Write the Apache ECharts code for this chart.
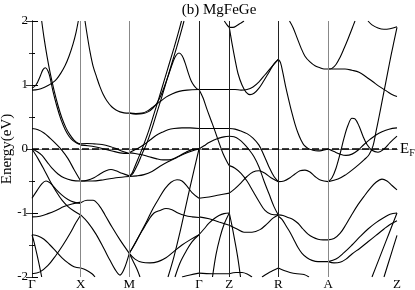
<!DOCTYPE html>
<html><head><meta charset="utf-8">
<script src="https://cdn.jsdelivr.net/npm/echarts@6/dist/echarts.min.js"></script>
<style>html,body{margin:0;padding:0;background:#fff}#c{width:415px;height:290px}</style>
</head><body><div id="c"></div>
<script>
const titleText = '(b) MgFeGe';
const yName = 'Energy(eV)';
const kLabels = ['Γ','X','M','Γ','Z','R','A','Z'];
const kTicks = [0, 48.7, 97.3, 167, 197.3, 246.3, 296.3, 365];
const eMin = -2, eMax = 2, eStep = 1;
const fermi = 0;

const bandsGX = [
 [[9.7,2.0],[12,1.74],[15,1.45],[18,1.2],[22,0.92],[26,0.68],[30,0.48],[34,0.33],[38,0.22],[42,0.14],[46,0.09],[48.7,0.08]],
 [[0,0.92],[6,0.93],[12,0.96],[17,1.0],[21,1.04],[25,1.1],[29,1.19],[33,1.3],[37,1.45],[41,1.64],[44,1.82],[46.3,2.0]],
 [[0,0.95],[4,1.0],[8,1.13],[11,1.24],[13.5,1.27],[16,1.22],[18,1.12],[21,0.9],[25,0.66],[29,0.46],[33,0.31],[37,0.2],[41,0.13],[45,0.09],[48.7,0.07]],
 [[0,0.32],[6,0.3],[12,0.25],[18,0.17],[24,0.08],[30,-0.02],[36,-0.15],[42,-0.32],[48.7,-0.5]],
 [[0,0],[5,-0.04],[10,-0.1],[15,-0.2],[20,-0.3],[26,-0.39],[32,-0.45],[40,-0.49],[48.7,-0.5]],
 [[0,0],[6,-0.15],[12,-0.32],[18,-0.5],[24,-0.66],[30,-0.8],[36,-0.9],[42,-0.97],[48.7,-1.03]],
 [[0,-0.77],[5,-0.65],[10,-0.54],[14,-0.5],[18,-0.53],[24,-0.63],[30,-0.72],[36,-0.79],[42,-0.83],[48.7,-0.85]],
 [[0,-1.06],[8,-1.05],[16,-1.01],[24,-0.96],[32,-0.9],[40,-0.86],[48.7,-0.83]],
 [[0,-1.34],[6,-1.36],[12,-1.41],[18,-1.5],[24,-1.6],[30,-1.7],[36,-1.78],[42,-1.84],[48.7,-1.86]],
 [[0,-1.34],[2,-1.45],[5,-1.65],[7.5,-1.83],[9.7,-2.0]],
 [[0,-1.95],[8,-1.92],[16,-1.82],[24,-1.66],[31,-1.5],[38,-1.32],[44,-1.15],[48.7,-1.03]]
];
const bandsXM = [
 [[53,2.0],[55.5,1.75],[58,1.52],[61,1.3],[64.7,1.12],[68,0.97],[71,0.86],[75,0.75],[79.7,0.66],[84,0.61],[88,0.58],[92,0.565],[97.3,0.56]],
 [[48.7,0.08],[55,0.085],[62,0.08],[70,0.07],[78,0.04],[85,0.0],[91,-0.04],[97.3,-0.07]],
 [[48.7,0.06],[56,0.05],[64,0.03],[72,0.0],[80,-0.03],[88,-0.06],[97.3,-0.07]],
 [[48.7,-0.5],[55,-0.49],[62,-0.45],[68,-0.39],[74,-0.34],[79,-0.32],[84,-0.34],[90,-0.38],[97.3,-0.42]],
 [[48.7,-0.5],[60,-0.5],[72,-0.48],[84,-0.45],[97.3,-0.43]],
 [[48.7,-0.84],[55,-0.8],[61,-0.8],[67,-0.88],[73,-1.03],[80,-1.22],[88,-1.42],[97.3,-1.63]],
 [[48.7,-1.03],[56,-1.15],[64,-1.33],[72,-1.56],[78,-1.74],[83,-1.88],[88,-1.97],[92,-1.88],[97.3,-1.63]],
 [[48.7,-1.86],[54,-1.89],[60,-1.95],[63,-2.0]]
];
const bandsMG = [
 [[97.3,0.56],[104,0.555],[110,0.56],[116,0.6],[122,0.67],[128,0.74],[134,0.81],[140,0.86],[147,0.9],[155,0.92],[167,0.93]],
 [[97.3,0.56],[104,0.545],[110,0.55],[116,0.58],[121,0.64],[125,0.72],[129,0.84],[133,1.0],[137,1.18],[141,1.36],[144,1.46],[147,1.5],[150,1.46],[153,1.35],[156,1.2],[159,1.07],[162,0.99],[165,0.94],[167,0.93]],
 [[97.3,-0.43],[100,-0.38],[104,-0.23],[108,-0.08],[112,0.08],[117,0.3],[122,0.55],[127,0.8],[132,1.06],[137,1.32],[142,1.58],[146,1.8],[149.5,2.0]],
 [[97.3,-0.43],[101,-0.38],[106,-0.23],[110,-0.08],[114.5,0.08],[119.5,0.3],[124.5,0.55],[129.5,0.8],[134.5,1.06],[139.5,1.32],[144.5,1.58],[148.5,1.8],[152,2.0]],
 [[97.3,-0.06],[103,-0.07],[110,-0.09],[117,-0.12],[124,-0.15],[131,-0.17],[137,-0.17],[142,-0.15],[148,-0.1],[154,-0.05],[160,-0.01],[167,0]],
 [[97.3,-0.06],[102,-0.02],[107,0.02],[112,0.07],[118,0.14],[124,0.21],[130,0.26],[136,0.3],[142,0.32],[150,0.33],[158,0.33],[167,0.32]],
 [[97.3,-0.43],[105,-0.42],[112,-0.4],[120,-0.35],[128,-0.27],[136,-0.2],[144,-0.14],[152,-0.08],[160,-0.03],[167,0]],
 [[97.3,-1.63],[103,-1.48],[109,-1.3],[115,-1.12],[121,-0.93],[127,-0.77],[133,-0.62],[139,-0.52],[145,-0.48],[150,-0.5],[155,-0.58],[160,-0.68],[167,-0.77]],
 [[97.3,-1.63],[102,-1.5],[107,-1.36],[112,-1.23],[117,-1.1],[122,-1.0],[128,-0.96],[134,-0.93],[140,-0.95],[146,-1.0],[153,-1.04],[160,-1.06],[167,-1.07]],
 [[143,-2.0],[148,-1.78],[154,-1.6],[160,-1.45],[167,-1.34]],
 [[97.3,-1.63],[103,-1.72],[110,-1.77],[118,-1.78],[126,-1.76],[134,-1.7],[142,-1.6],[150,-1.5],[158,-1.42],[167,-1.34]],
 [[97.3,-1.63],[101,-1.75],[105,-1.88],[108,-2.0]],
 [[150,-2.0],[158,-1.97],[167,-1.94]],
 [[136,-2.0],[142,-1.68],[148,-1.3],[153,-0.95],[158,-0.6],[162,-0.33],[167,0]]
];
const bandsGZ = [
 [[167,0.93],[177,0.93],[187,0.93],[197.3,0.93]],
 [[167,0.32],[177,0.32],[187,0.32],[197.3,0.32]],
 [[167,0.93],[171,0.8],[175,0.62],[179,0.45],[183,0.28],[187,0.1],[191,-0.07],[195,-0.2],[197.3,-0.26]],
 [[167,0],[172,0.05],[177,0.1],[182,0.14],[187,0.17],[192,0.19],[197.3,0.2]],
 [[167,-0.77],[177,-0.75],[187,-0.72],[197.3,-0.69]],
 [[167,-1.06],[177,-1.09],[187,-1.14],[197.3,-1.19]],
 [[167,-1.34],[172,-1.25],[177,-1.16],[182,-1.09],[187,-1.04],[192,-1.01],[197.3,-1.0]],
 [[180.5,-2.0],[184,-1.65],[188,-1.38],[192,-1.18],[197.3,-1.0]],
 [[167,-1.94],[180,-1.95],[197.3,-1.95]],
 [[192.3,2.0],[195,1.94],[197.3,1.9]]
];
const bandsZR = [
 [[197.3,1.9],[201,1.9],[205,1.93],[209,1.97],[212,2.0]],
 [[197.3,1.9],[200,1.65],[203,1.4],[206,1.18],[210,1.0],[214,0.89],[218,0.85],[222,0.87],[227,0.95],[232,1.07],[237,1.2],[242,1.33],[246.3,1.4]],
 [[197.3,0.93],[203,0.93],[209,0.92],[215,0.93],[221,0.97],[227,1.05],[233,1.16],[239,1.27],[246.3,1.4]],
 [[197.3,0.32],[203,0.31],[209,0.28],[215,0.24],[221,0.17],[227,0.06],[232,-0.1],[237,-0.28],[242,-0.43],[246.3,-0.51]],
 [[197.3,0.2],[202,0.19],[207,0.15],[212,0.08],[217,-0.01],[222,-0.12],[227,-0.28],[232,-0.5],[237,-0.7],[242,-0.9],[246.3,-1.03]],
 [[197.3,-0.26],[203,-0.3],[209,-0.38],[215,-0.5],[221,-0.66],[227,-0.82],[233,-0.96],[239,-1.02],[246.3,-1.03]],
 [[197.3,-0.69],[203,-0.62],[209,-0.53],[215,-0.43],[221,-0.36],[227,-0.34],[233,-0.38],[239,-0.45],[246.3,-0.51]],
 [[197.3,-1.19],[205,-1.25],[212,-1.3],[220,-1.3],[228,-1.26],[235,-1.17],[241,-1.08],[246.3,-1.03]],
 [[230,-2.0],[236,-1.94],[241,-1.9],[246.3,-1.86]],
 [[197.3,-1.95],[204,-1.93],[210,-1.93],[216,-1.96],[220,-2.0]],
 [[197.3,-1.0],[200,-1.2],[203,-1.45],[206,-1.72],[208.5,-2.0]]
];
const bandsRA = [
 [[257.5,2.0],[261,1.9],[265,1.74],[269,1.58],[273,1.45],[278,1.36],[283,1.3],[288,1.27],[292,1.25],[296.3,1.25]],
 [[246.3,1.4],[248.5,1.35],[251,1.18],[254,0.95],[257,0.75],[260,0.56],[263,0.39],[266,0.25],[269,0.14],[272,0.06],[276,0.01],[281,-0.02],[286,-0.03],[291,-0.02],[296.3,0]],
 [[246.3,-0.51],[252,-0.5],[258,-0.45],[263,-0.39],[268,-0.34],[273,-0.33],[278,-0.36],[283,-0.43],[289,-0.49],[296.3,-0.51]],
 [[246.3,-1.03],[251,-1.04],[256,-1.07],[261,-1.1],[266,-1.16],[271,-1.25],[276,-1.33],[281,-1.38],[286,-1.41],[291,-1.42],[296.3,-1.42]],
 [[246.3,-1.05],[250,-1.1],[254,-1.2],[258,-1.3],[262,-1.42],[266,-1.54],[270,-1.63],[275,-1.7],[280,-1.74],[286,-1.76],[291,-1.76],[296.3,-1.76]],
 [[246.3,-1.86],[252,-1.9],[258,-1.93],[265,-1.95],[272,-1.96],[277,-2.0]]
];
const bandsAZ = [
 [[296.3,1.25],[300,1.26],[304,1.32],[308,1.43],[312,1.57],[316,1.72],[320,1.88],[323,2.0]],
 [[296.3,1.25],[305,1.25],[313,1.25],[320,1.23],[327,1.2],[334,1.13],[341,1.05],[348,0.97],[355,0.9],[360,0.85],[365,0.82]],
 [[336,2.0],[340,1.94],[346,1.89],[352,1.87],[358,1.88],[365,1.91]],
 [[365,1.9],[362,1.68],[359,1.46],[356,1.22],[353,0.98],[350,0.74],[347,0.5],[344,0.27],[341,0.05],[337,-0.09],[332,-0.17],[327,-0.24],[320,-0.33],[314,-0.4],[306,-0.47],[296.3,-0.51]],
 [[296.3,-0.51],[300,-0.45],[304,-0.3],[308,-0.08],[312,0.17],[316,0.37],[320,0.48],[323,0.47],[327,0.36],[331,0.2],[335,0.07],[340,-0.02],[346,-0.05],[352,0.0],[358,0.1],[365,0.2]],
 [[296.3,0],[302,-0.04],[308,-0.08],[314,-0.1],[320,-0.08],[326,-0.02],[332,0.07],[338,0.15],[344,0.22],[350,0.27],[357,0.31],[365,0.33]],
 [[296.3,-1.42],[302,-1.4],[308,-1.32],[314,-1.18],[320,-1.02],[326,-0.87],[332,-0.74],[338,-0.62],[344,-0.52],[350,-0.47],[355,-0.5],[360,-0.57],[365,-0.64]],
 [[296.3,-1.76],[304,-1.72],[312,-1.62],[320,-1.5],[328,-1.37],[336,-1.25],[344,-1.15],[352,-1.07],[358,-1.02],[365,-1.0]],
 [[296.3,-1.76],[302,-1.78],[308,-1.77],[314,-1.72],[320,-1.64],[328,-1.55],[336,-1.45],[344,-1.35],[352,-1.25],[358,-1.18],[365,-1.12]],
 [[340,-2.0],[347,-1.72],[354,-1.44],[360,-1.2],[365,-1.0]],
 [[352,-2.0],[357,-1.75],[361,-1.55],[365,-1.35]]
];

const FONT = '"Liberation Serif","Times New Roman",serif';
const chart = echarts.init(document.getElementById('c'), null, {renderer: 'canvas'});
const allBands = [].concat(bandsGX, bandsXM, bandsMG, bandsGZ, bandsZR, bandsRA, bandsAZ);
const series = allBands.map(pts => ({
  type: 'line', data: pts, smooth: 0.35, showSymbol: false, symbol: 'none',
  lineStyle: {color: '#000', width: 1.1}, silent: true, animation: false, z: 3
}));
const vColors = ['#888', '#888', '#222', '#222', '#222', '#888'];
series.push({
  type: 'line', data: [], silent: true, animation: false, z: 2,
  markLine: {
    symbol: 'none', silent: true, animation: false,
    label: {show: false},
    data: kTicks.slice(1, -1).map((k, i) => ({xAxis: k, lineStyle: {color: vColors[i], width: 1, type: 'solid'}}))
  }
});
series.push({
  type: 'line', data: [], silent: true, animation: false, z: 4,
  markLine: {
    symbol: 'none', silent: true, animation: false,
    data: [{yAxis: fermi}],
    lineStyle: {color: '#000', width: 1.6, type: [7, 3]},
    label: {show: true, position: 'end', distance: 3, formatter: '{e|E}{f|F}',
      rich: {e: {fontFamily: FONT, fontSize: 15, color: '#000'}, f: {fontFamily: FONT, fontSize: 10, color: '#000', padding: [9, 0, 0, 0]}}}
  }
});
const nearestLabel = v => { let b = 0; kTicks.forEach((k, i) => { if (Math.abs(k - v) < Math.abs(kTicks[b] - v)) b = i; }); return kLabels[b]; };
chart.setOption({
  animation: false,
  backgroundColor: '#fff',
  title: {text: titleText, left: 214, textAlign: 'center', top: -2,
    textStyle: {fontFamily: FONT, fontSize: 15, fontWeight: 'normal', color: '#000'}},
  grid: {left: 32, right: 18, top: 21, bottom: 13, containLabel: false, outerBoundsMode: 'none'},
  xAxis: [
    {type: 'value', min: kTicks[0], max: kTicks[kTicks.length - 1], position: 'bottom',
      axisLine: {lineStyle: {color: '#000', width: 1}}, axisTick: {show: false}, splitLine: {show: false},
      axisLabel: {customValues: kTicks, formatter: v => nearestLabel(v), fontFamily: FONT, fontSize: 13, color: '#000', margin: 1}},
    {type: 'value', min: kTicks[0], max: kTicks[kTicks.length - 1], position: 'top',
      axisLine: {lineStyle: {color: '#888', width: 1}}, axisTick: {show: false}, axisLabel: {show: false}, splitLine: {show: false}}
  ],
  yAxis: [
    {type: 'value', min: eMin, max: eMax, interval: eStep, position: 'left',
      axisLine: {show: true, lineStyle: {color: '#000', width: 1}},
      axisTick: {show: true, inside: true, length: 6, lineStyle: {color: '#000'}},
      minorTick: {show: true, splitNumber: 2, length: 3, lineStyle: {color: '#000'}},
      splitLine: {show: false},
      axisLabel: {fontFamily: FONT, fontSize: 13, color: '#000', margin: 4},
      name: yName, nameLocation: 'middle', nameGap: 17, nameRotate: 90, nameMoveOverlap: false,
      nameTextStyle: {fontFamily: FONT, fontSize: 15, color: '#000'}},
    {type: 'value', min: eMin, max: eMax, interval: eStep, position: 'right',
      axisLine: {show: true, lineStyle: {color: '#333', width: 1}},
      axisTick: {show: true, inside: true, length: 6, lineStyle: {color: '#333'}},
      minorTick: {show: true, splitNumber: 2, length: 3, lineStyle: {color: '#333'}},
      splitLine: {show: false}, axisLabel: {show: false}}
  ],
  series: series
});
</script></body></html>
